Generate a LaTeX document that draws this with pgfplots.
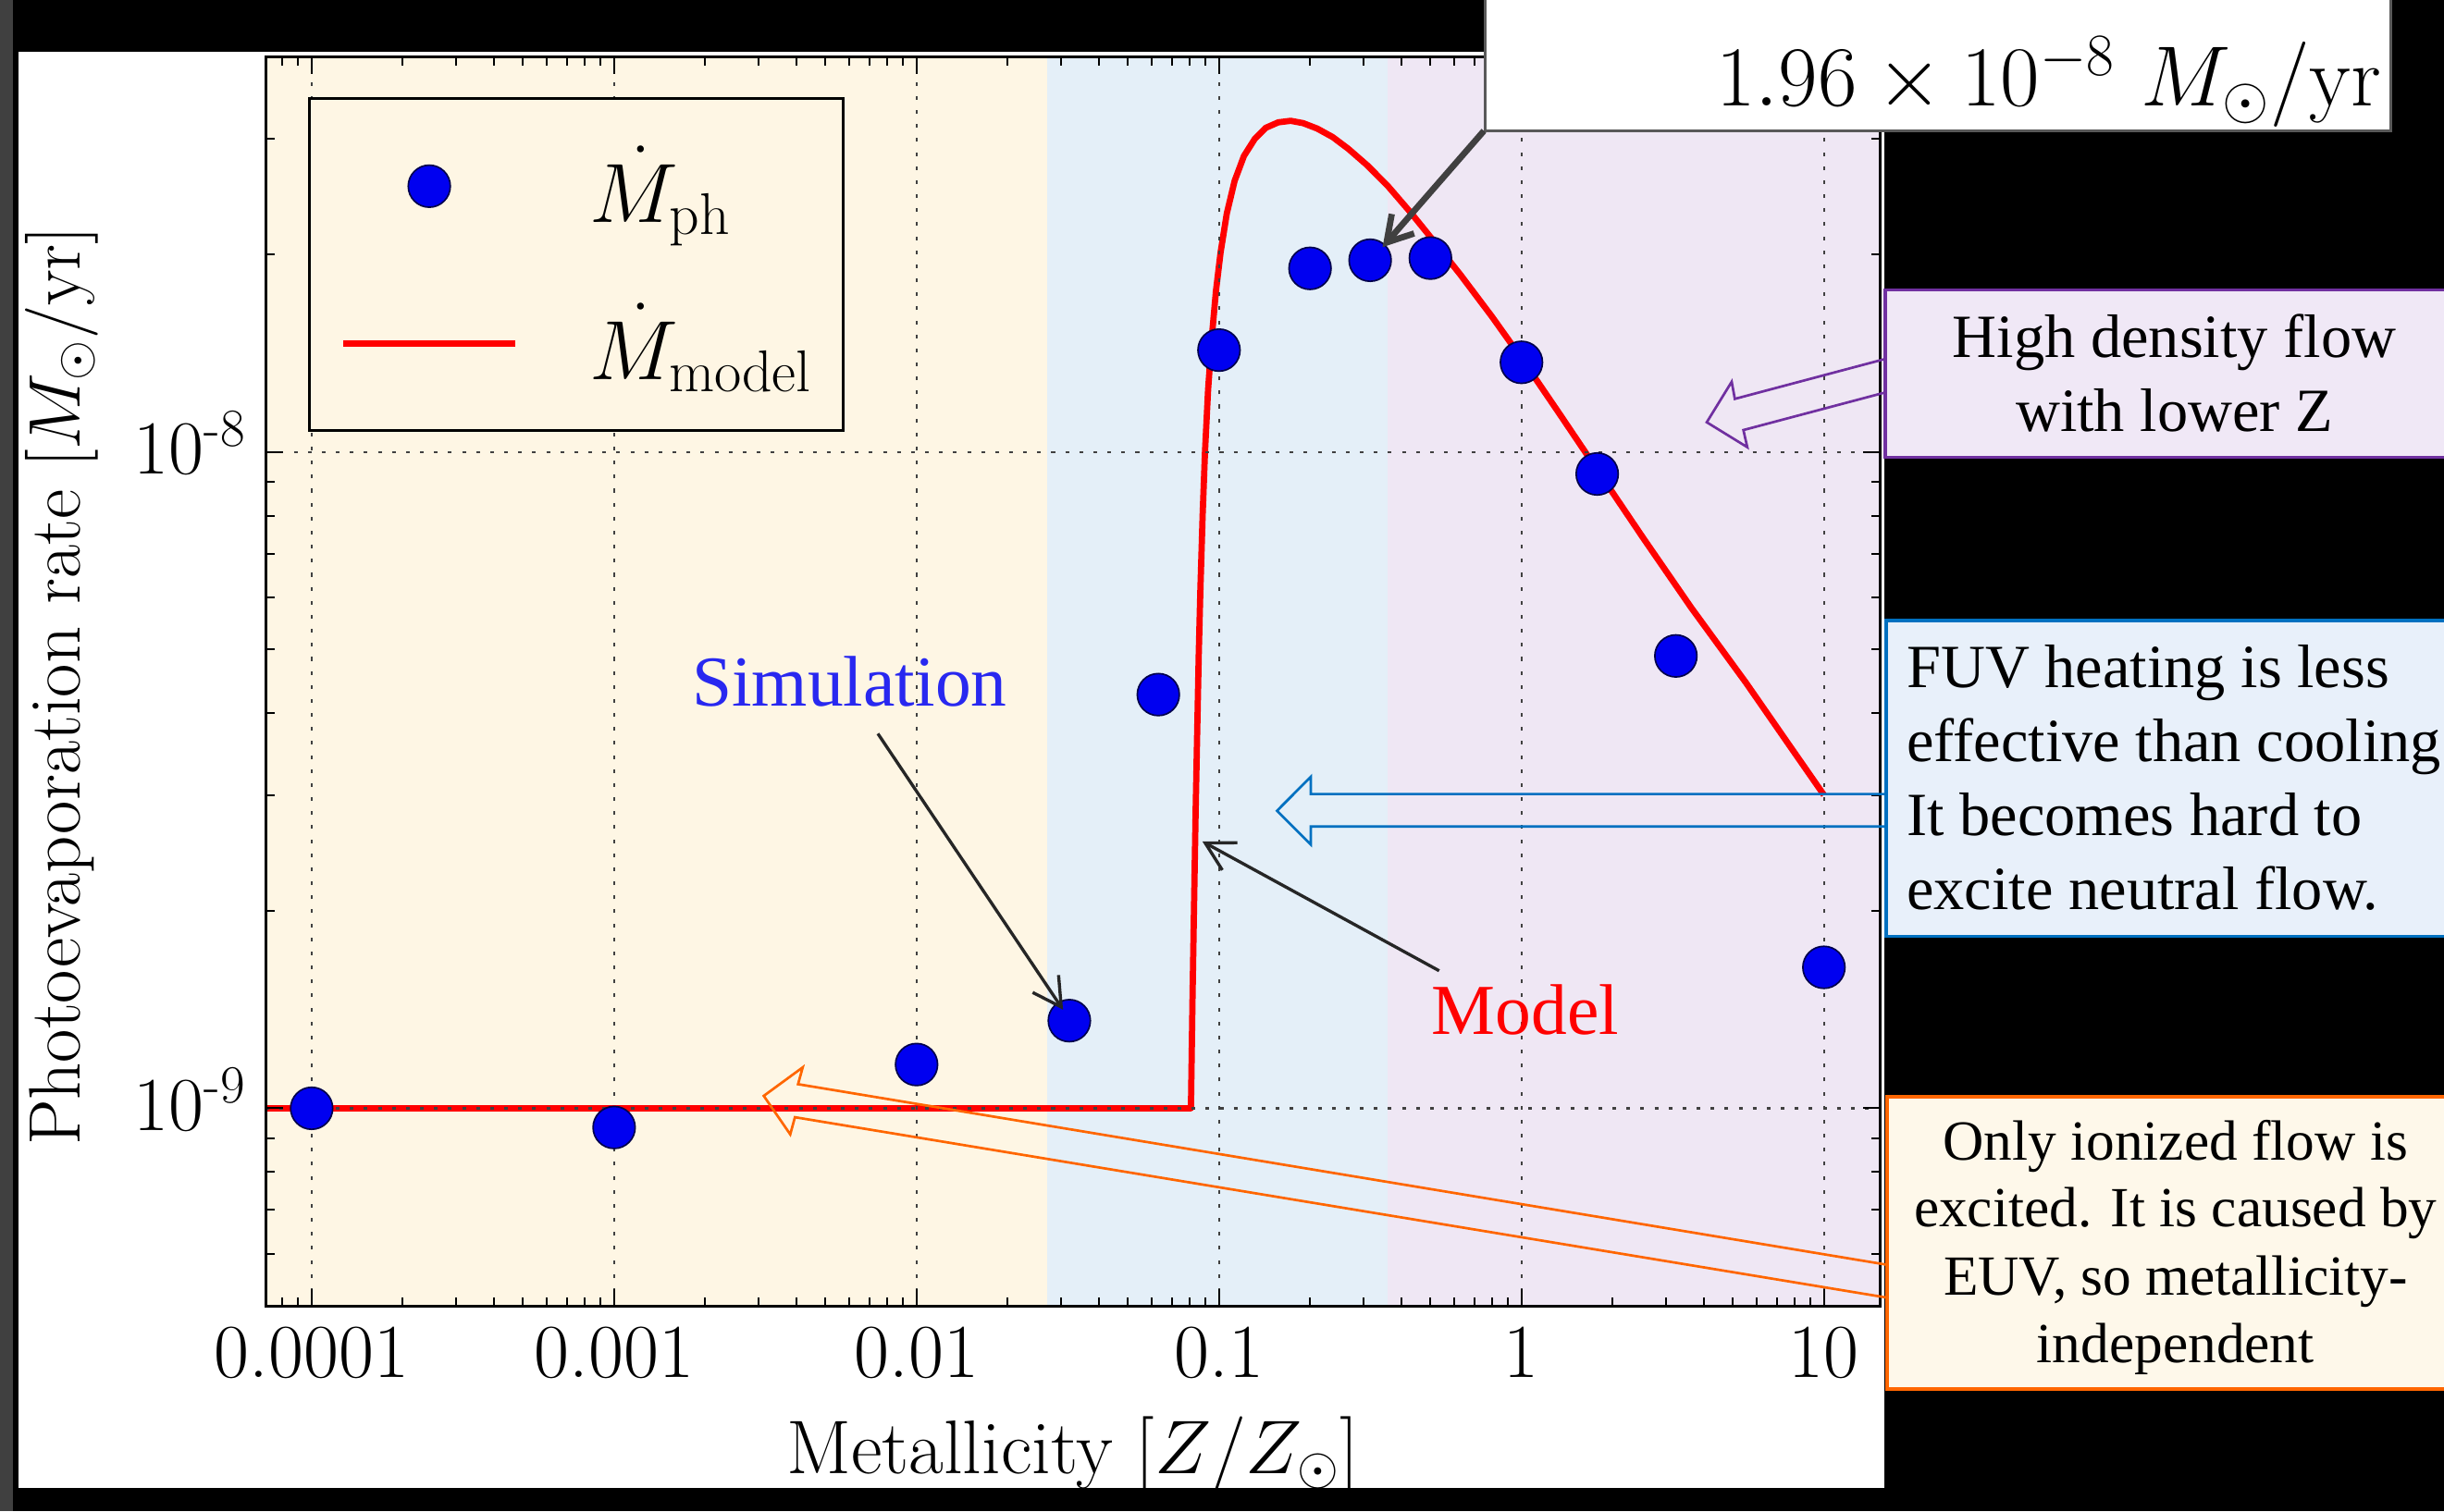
\RequirePackage{fix-cm}
\documentclass[border=0pt]{standalone}
\usepackage{fontspec}
\usepackage{pgfplots}
\pgfplotsset{compat=1.18}
\usetikzlibrary{arrows.meta}
\newfontfamily\tnr{Liberation Serif}
\definecolor{cYel}{RGB}{254,246,228}
\definecolor{cBlu}{RGB}{228,239,248}
\definecolor{cPur}{RGB}{239,231,244}
\definecolor{bPur}{RGB}{112,48,160}
\definecolor{bBlu}{RGB}{0,112,192}
\definecolor{bOra}{RGB}{255,102,0}
\definecolor{fPur}{RGB}{240,232,246}
\definecolor{fBlu}{RGB}{232,240,250}
\definecolor{fOra}{RGB}{254,248,234}
\definecolor{mBlue}{RGB}{0,0,240}
\definecolor{simBlue}{RGB}{40,40,240}
\definecolor{darkg}{RGB}{64,64,64}
\pgfplotsset{
  simlegend/.style={legend image code/.code={\path[draw=none,fill=none] (0pt,-1pt) rectangle (55pt,1pt);
    \draw[##1] plot coordinates {(27.5pt,0pt)};}},
  modlegend/.style={legend image code/.code={\draw[##1] (0pt,0pt) -- (55pt,0pt);}},
}
\begin{document}
\begin{tikzpicture}
\useasboundingbox (0,0) rectangle (784pt,485pt);
\clip (0,0) rectangle (784pt,485pt);
\fill[black] (0,0) rectangle (784pt,485pt);
\begin{scope}[shift={(0pt,485pt)},x=0.5pt,y=-0.5pt]
\fill[darkg] (0,0) rectangle (8.3,970);
\fill[white] (12,33) rectangle (1208.8,955);
\end{scope}
\begin{axis}[
  at={(85.25pt,66pt)}, anchor=south west, scale only axis,
  width=517.75pt, height=400.75pt,
  xmode=log, ymode=log,
  xmin=7.05e-5, xmax=15.3, ymin=5e-10, ymax=4e-8,
  xtick={1e-4,1e-3,1e-2,1e-1,1,10},
  xticklabels={0.0001,0.001,0.01,0.1,1,10},
  minor xtick={8e-5,9e-5,2e-4,3e-4,4e-4,5e-4,6e-4,7e-4,8e-4,9e-4,2e-3,3e-3,4e-3,5e-3,6e-3,7e-3,8e-3,9e-3,0.02,0.03,0.04,0.05,0.06,0.07,0.08,0.09,0.2,0.3,0.4,0.5,0.6,0.7,0.8,0.9,2,3,4,5,6,7,8,9},
  ytick={1e-9,1e-8},
  yticklabels={10\textsuperscript{-9},10\textsuperscript{-8}},
  minor ytick={6e-10,7e-10,8e-10,9e-10,2e-9,3e-9,4e-9,5e-9,6e-9,7e-9,8e-9,9e-9,2e-8,3e-8},
  tick label style={font=\fontsize{24.5}{29}\selectfont},
  xticklabel style={inner sep=0pt, anchor=north, yshift=-6.5pt},
  yticklabel style={inner sep=0pt, anchor=base east, xshift=-6pt, yshift=-7pt},
  major tick length=5.5pt, minor tick length=2.8pt,
  tick style={black, line width=0.6pt},
  axis line style={black, line width=0.9pt},
  grid=major,
  major grid style={black!75, line width=0.65pt, dash pattern=on 1.2pt off 3.3pt},
  axis on top,
  xlabel={Metallicity $[Z/Z_\odot]$},
  xlabel style={at={(axis description cs:0.5,-0.1342)}, anchor=base, font=\fontsize{24.4}{29}\selectfont},
  ylabel={Photoevaporation rate $[M_\odot/\mathrm{yr}]$},
  ylabel style={at={(axis description cs:-0.115,0.4962)}, anchor=base, font=\fontsize{23.4}{28}\selectfont},
  legend style={at={(axis description cs:0.0261,0.9675)}, anchor=north west,
    fill=cYel, draw=black, line width=0.9pt,
    inner xsep=10pt, inner ysep=13pt, row sep=20.5pt, column sep=23pt,
    font=\fontsize{27}{30}\selectfont,
    nodes={inner sep=0pt, minimum height=30pt, anchor=west}},
  legend cell align=left,
]
\addplot[draw=none, fill=cYel, forget plot] coordinates {(1e-5,1e-10) (0.027,1e-10) (0.027,1e-7) (1e-5,1e-7)} -- cycle;
\addplot[draw=none, fill=cBlu, forget plot] coordinates {(0.027,1e-10) (0.36,1e-10) (0.36,1e-7) (0.027,1e-7)} -- cycle;
\addplot[draw=none, fill=cPur, forget plot] coordinates {(0.36,1e-10) (100,1e-10) (100,1e-7) (0.36,1e-7)} -- cycle;

\addplot[only marks, mark=*, mark size=6.75pt,
  mark options={fill=mBlue, draw=black!70!blue, line width=0.5pt}, simlegend]
coordinates {
(1e-4,1.0e-9) (1e-3,9.35e-10) (1e-2,1.166e-9) (0.032,1.36e-9) (0.063,4.27e-9)
(0.1,1.43e-8) (0.2,1.905e-8) (0.316,1.96e-8) (0.5,1.975e-8) (1,1.37e-8)
(1.78,9.26e-9) (3.24,4.89e-9) (10,1.64e-9)};
\addlegendentry{$\dot M_{\rm ph}$}

\addplot[red, line width=2pt, line join=round, modlegend]
coordinates {
(5e-5,1e-9) (0.08076,1e-9) (0.08174,1.474e-9) (0.08271,2.047e-9) (0.08371,2.842e-9)
(0.08469,3.736e-9) (0.08570,4.910e-9) (0.08672,6.110e-9) (0.08829,8.035e-9)
(0.08988,1.0e-8) (0.09203,1.245e-8) (0.09480,1.507e-8) (0.09766,1.757e-8)
(0.1012,2.014e-8) (0.1061,2.309e-8) (0.1126,2.589e-8) (0.1209,2.826e-8)
(0.1314,3.002e-8) (0.1427,3.119e-8) (0.1570,3.180e-8) (0.1726,3.197e-8)
(0.1898,3.171e-8) (0.2112,3.111e-8) (0.2378,3.019e-8) (0.2678,2.897e-8)
(0.3088,2.736e-8) (0.3603,2.548e-8) (0.4306,2.316e-8) (0.5144,2.093e-8)
(0.6295,1.861e-8) (0.7983,1.609e-8) (1.012,1.380e-8) (1.330,1.147e-8)
(1.789,9.365e-9) (2.524,7.401e-9) (3.647,5.787e-9) (5.525,4.451e-9)
(7.433,3.655e-9) (10,3.002e-9)};
\addlegendentry{$\dot M_{\rm model}$}
\end{axis}
\begin{scope}[shift={(0pt,485pt)},x=0.5pt,y=-0.5pt]
% hollow arrows
\draw[bPur, line width=0.8pt] (1095,271) -- (1111,245) -- (1113,256) -- (1212,229.7) -- (1212,251.2) -- (1118.5,276) -- (1121,287) -- cycle;
\draw[bBlu, line width=0.8pt] (819.3,520.3) -- (841,498.5) -- (841,509.6) -- (1212,509.6) -- (1212,530.4) -- (841,530.4) -- (841,542) -- cycle;
\draw[bOra, line width=0.8pt] (490,703.3) -- (515,685) -- (512,695.8) -- (1212,811.9) -- (1212,833) -- (510,717) -- (507,728) -- cycle;
% boxes
\draw[bPur, line width=1pt, fill=fPur] (1209.5,186.2) rectangle (1600,293.5);
\draw[bBlu, line width=1pt, fill=fBlu] (1210,398.2) rectangle (1600,600.8);
\draw[bOra, line width=1.2pt, fill=fOra] (1210.5,703.7) rectangle (1600,891.2);
\draw[black!65, line width=0.8pt, fill=white] (953,-10) rectangle (1534,84);
% box texts
\begin{scope}[every node/.style={inner sep=0pt, font=\tnr\fontsize{19.7}{23.6}\selectfont}]
\node[anchor=base] at (1395,229.4) {High density flow};
\node[anchor=base] at (1395,276.7) {with lower Z};
\node[anchor=base west] at (1222.9,441.5) {FUV heating is less};
\node[anchor=base west] at (1222.9,488.6) {effective than cooling};
\node[anchor=base west] at (1222.9,536) {It becomes hard to};
\node[anchor=base west] at (1222.9,583.6) {excite neutral flow.};
\end{scope}
\begin{scope}[every node/.style={inner sep=0pt, anchor=base, font=\tnr\fontsize{18.2}{21.7}\selectfont}]
\node at (1395.7,744.8) {Only ionized flow is};
\node at (1395.7,787.3) {excited. It is caused by};
\node at (1395.7,831.3) {EUV, so metallicity-};
\node at (1395.7,874.4) {independent};
\end{scope}
\node[anchor=base west, inner sep=0pt, text=simBlue, font=\tnr\fontsize{23}{27}\selectfont] at (443.7,453) {Simulation};
\node[anchor=base west, inner sep=0pt, text=red, font=\tnr\fontsize{23}{27}\selectfont] at (918.3,663.7) {Model};
\node[anchor=base east, inner sep=0pt, font=\fontsize{27.4}{32}\selectfont] at (1528,68.1) {$1.96\times10^{-8}\ M_\odot/\mathrm{yr}$};
% thin arrows
\draw[darkg, line width=2pt, -{Straight Barb[length=8pt,width=9.5pt]}] (952,84) -- (887,158.6);
\draw[black!85, line width=1pt, -{Straight Barb[length=9pt,width=10pt]}] (563.2,470.8) -- (682,648);
\draw[black!85, line width=1pt, -{Straight Barb[length=9pt,width=10pt]}] (923.3,623) -- (771.4,540);
\end{scope}
\end{tikzpicture}
\end{document}
